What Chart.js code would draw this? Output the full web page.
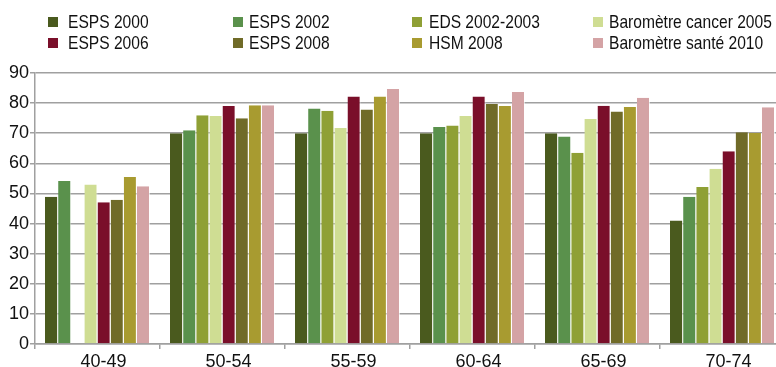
<!DOCTYPE html>
<html>
<head>
<meta charset="utf-8">
<script src="https://cdn.jsdelivr.net/npm/chart.js@4/dist/chart.umd.min.js"></script>
<style>
    html, body { margin: 0; padding: 0; background: #fff; overflow: hidden; width: 776px; height: 367px; }
    #wrap { position: relative; width: 776px; height: 367px; overflow: hidden; }
    canvas { position: absolute; left: 0; top: 0; }
    .legend-item {
        position: absolute;
        height: 20px;
        white-space: nowrap;
    }
    .legend-item .box {
        position: absolute;
        left: 0;
        top: 5px;
        width: 10px;
        height: 10px;
    }
    .legend-item .txt {
        position: absolute;
        top: 0;
        font-family: 'Liberation Sans', Arial, sans-serif;
        font-size: 19px;
        line-height: 20px;
        color: #111;
        transform: scaleX(0.82);
        transform-origin: left center;
    }
</style>
</head>
<body>
<div id="wrap">
    <canvas id="chart" width="785" height="374"></canvas>
</div>
<script>
// Données
const categories = ['40-49', '50-54', '55-59', '60-64', '65-69', '70-74'];

const seriesNames = [
    'ESPS 2000', 'ESPS 2002', 'EDS 2002-2003', 'Baromètre cancer 2005',
    'ESPS 2006', 'ESPS 2008', 'HSM 2008', 'Baromètre santé 2010'
];
const seriesColors = [
    '#4a5a1e', '#5a914c', '#8fa035', '#cfdd93',
    '#7a0f2a', '#706b28', '#a89b30', '#d4a3a5'
];

const esps2000       = [48.9, 70.0, 70.0, 70.0, 70.0, 41.0];
const esps2002       = [54.1, 71.0, 78.2, 72.1, 68.9, 48.9];
const eds2002_2003   = [null, 76.0, 77.5, 72.6, 63.5, 52.1];
const baroCancer2005 = [53.0, 75.7, 71.7, 75.7, 74.7, 58.2];
const esps2006       = [47.1, 79.0, 82.2, 82.2, 79.1, 64.0];
const esps2008       = [47.9, 75.0, 77.9, 79.7, 77.2, 70.3];
const hsm2008        = [55.5, 79.3, 82.2, 79.0, 78.7, 70.1];
const baroSante2010  = [52.4, 79.3, 84.7, 83.7, 81.8, 78.6];

const yTicks = [0, 10, 20, 30, 40, 50, 60, 70, 80, 90];

const seriesValues = [esps2000, esps2002, eds2002_2003, baroCancer2005,
                      esps2006, esps2008, hsm2008, baroSante2010];

// Légende en HTML : 4 colonnes, 2 lignes
const legendBoxX = [48, 233, 412, 593];
const legendTextX = [68, 249, 429, 609];
const legendRows = [12, 33];
const wrap = document.getElementById('wrap');
seriesNames.forEach((name, i) => {
    const col = i % 4;
    const item = document.createElement('div');
    item.className = 'legend-item';
    item.style.left = legendBoxX[col] + 'px';
    item.style.top = legendRows[Math.floor(i / 4)] + 'px';
    item.innerHTML = `<span class="box" style="background:${seriesColors[i]}"></span>` +
        `<span class="txt" style="left:${legendTextX[col] - legendBoxX[col]}px">${name}</span>`;
    wrap.appendChild(item);
});

const gridColor = '#a0a0a0';
const tickFont = { family: "'Liberation Sans', Arial, sans-serif", size: 18 };

new Chart(document.getElementById('chart').getContext('2d'), {
    type: 'bar',
    data: {
        labels: categories,
        datasets: seriesNames.map((name, i) => ({
            label: name,
            data: seriesValues[i],
            backgroundColor: seriesColors[i],
            borderColor: 'rgba(255,255,255,0.6)',
            borderWidth: { top: 0, left: 0, right: 1, bottom: 0 },
            categoryPercentage: 0.84,
            barPercentage: 1.0
        }))
    },
    options: {
        responsive: false,
        animation: false,
        devicePixelRatio: 1,
        layout: { padding: { top: 73, left: 0, right: 0, bottom: 0 } },
        plugins: {
            legend: { display: false },
            tooltip: { enabled: false }
        },
        scales: {
            y: {
                min: 0,
                max: 90,
                afterFit: (scale) => { scale.width = 35; },
                afterBuildTicks: (scale) => { scale.ticks = yTicks.map(v => ({ value: v })); },
                ticks: { font: tickFont, color: '#111', padding: 1 },
                grid: { color: gridColor, lineWidth: 1.5, tickLength: 5 },
                border: { color: gridColor, width: 1.5 }
            },
            x: {
                afterFit: (scale) => { scale.height = 30; },
                ticks: { font: tickFont, color: '#111', padding: 2, labelOffset: 6 },
                grid: { color: gridColor, lineWidth: 1.5, tickLength: 5, drawOnChartArea: false },
                border: { color: gridColor, width: 1.5 }
            }
        }
    }
});
</script>
</body>
</html>
